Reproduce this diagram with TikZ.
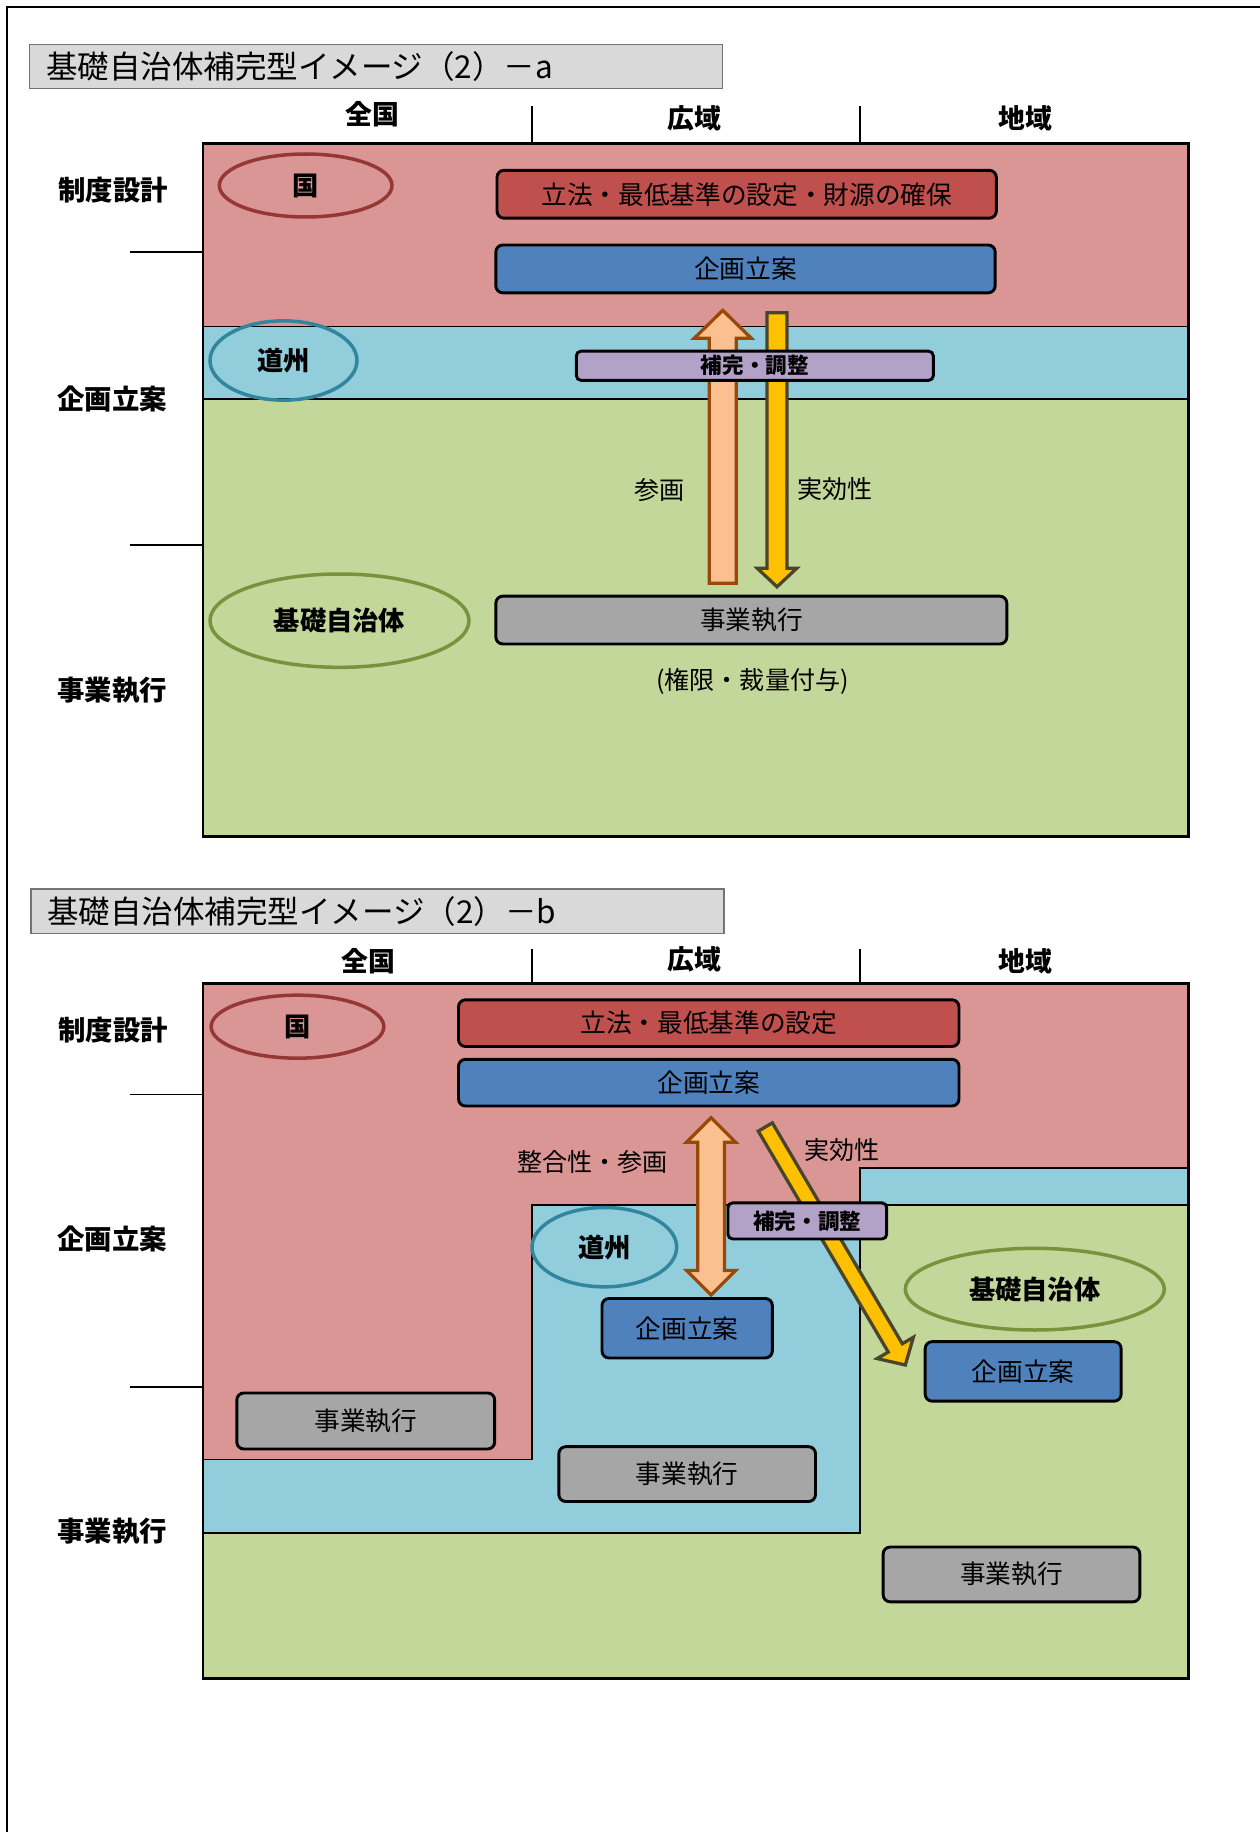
\documentclass[tikz,border=0pt]{standalone}
\usepackage{fontspec}
\setmainfont{Noto Sans CJK JP}
\usetikzlibrary{shapes.geometric}
\usetikzlibrary{calc}

\definecolor{bandred}{HTML}{DA9694}
\definecolor{bandblue}{HTML}{92CDDC}
\definecolor{bandgreen}{HTML}{C4D79B}
\definecolor{boxred}{HTML}{C0504D}
\definecolor{boxblue}{HTML}{4F81BD}
\definecolor{boxgray}{HTML}{A6A6A6}
\definecolor{boxpurple}{HTML}{B3A2C7}
\definecolor{ringred}{HTML}{953735}
\definecolor{ringteal}{HTML}{31859C}
\definecolor{ringgreen}{HTML}{77933C}
\definecolor{titlegray}{HTML}{D9D9D9}
\definecolor{sankafill}{HTML}{FAC090}
\definecolor{sankaline}{HTML}{984807}
\definecolor{jikkofill}{HTML}{FFC000}
\definecolor{jikkoline}{HTML}{4A452A}

% block arrow: style, tail, tip, shaft half width, head half width, head length
\newcommand{\blockarrow}[6]{%
  \coordinate (bh) at ($(#3)!#6!(#2)$);
  \draw[#1] ($(#2)!#4!90:(#3)$) -- ($(bh)!#4!90:(#3)$) -- ($(bh)!#5!90:(#3)$) -- (#3)
    -- ($(bh)!#5!-90:(#3)$) -- ($(bh)!#4!-90:(#3)$) -- ($(#2)!#4!-90:(#3)$) -- cycle;
}
% double block arrow
\newcommand{\dblockarrow}[6]{%
  \coordinate (dha) at ($(#2)!#6!(#3)$);
  \coordinate (dhb) at ($(#3)!#6!(#2)$);
  \draw[#1] (#2) -- ($(dha)!#5!90:(#3)$) -- ($(dha)!#4!90:(#3)$) -- ($(dhb)!#4!90:(#3)$)
    -- ($(dhb)!#5!90:(#3)$) -- (#3) -- ($(dhb)!#5!-90:(#3)$) -- ($(dhb)!#4!-90:(#3)$)
    -- ($(dha)!#4!-90:(#3)$) -- ($(dha)!#5!-90:(#3)$) -- cycle;
}

\begin{document}
\begin{tikzpicture}[x=1pt,y=-1pt,
    titlebox/.style={draw=black!55,line width=1pt,fill=titlegray,anchor=west,
        minimum height=38pt,inner xsep=14pt,text width=566pt,align=left,
        font=\fontsize{27}{30}\selectfont},
    head/.style={font=\fontsize{23}{27}\selectfont\bfseries},
    rowlabel/.style={font=\fontsize{23.5}{27}\selectfont\bfseries},
    ring/.style={ellipse,draw,line width=3pt,inner sep=0pt,
        font=\fontsize{22.5}{26}\selectfont\bfseries},
    task/.style={draw=black,line width=2.5pt,rounded corners=6pt,inner sep=0pt,
        font=\fontsize{22}{26}\selectfont},
    hokan/.style={task,fill=boxpurple,rounded corners=4pt,
        font=\fontsize{18.5}{21}\selectfont\bfseries},
    note/.style={font=\fontsize{21.5}{25}\selectfont},
    sanka/.style={fill=sankafill,draw=sankaline,line width=2.8pt},
    jikko/.style={fill=jikkofill,draw=jikkoline,line width=2.8pt},
    band/.style={draw=black,line width=1.2pt}]
    \useasboundingbox (0,0) rectangle (1080,1570.3);
    \draw[line width=1pt] (6,1570.3) -- (6,6) -- (1080,6);

    % ---------------- (2)-a ----------------
    \node[titlebox] (titleA) at (25,57) {基礎自治体補完型イメージ（2）－a};
    \node[head] (zenkokuA) at (319,98) {全国};
    \node[head] (kouikiA) at (595,101) {広域};
    \node[head] (chiikiA) at (879,101) {地域};
    \draw[line width=1.2pt] (456,91) -- (456,123) (737,91) -- (737,123);

    \fill[bandred] (174,123) rectangle (1019,280);
    \fill[bandblue] (174,280) rectangle (1019,342);
    \fill[bandgreen] (174,342) rectangle (1019,717);
    \draw[band] (174,280) -- (1019,280) (174,342) -- (1019,342);
    \draw[line width=2.5pt] (174,123) rectangle (1019,717);

    \node[rowlabel] (seidoA) at (97,163) {制度設計};
    \node[rowlabel] (kikakuA) at (96,342) {企画立案};
    \node[rowlabel] (jigyoA) at (96,592) {事業執行};
    \draw[line width=1.2pt] (111,216) -- (174,216) (111,467) -- (174,467);

    \node[ring,draw=ringred,minimum width=148pt,minimum height=54pt] (kuniA) at (262,159) {国};
    \node[ring,draw=ringteal,minimum width=126pt,minimum height=68pt] (doshuA) at (243,309) {道州};
    \node[ring,draw=ringgreen,minimum width=222pt,minimum height=80pt] (kisoA) at (291,532) {基礎自治体};

    \node[task,fill=boxred,minimum width=428pt,minimum height=41pt] (lawA) at (640,166.5) {立法・最低基準の設定・財源の確保};
    \node[task,fill=boxblue,minimum width=428pt,minimum height=41pt] (planA) at (639,230.5) {企画立案};
    \node[task,fill=boxgray,minimum width=438pt,minimum height=41pt] (execA) at (644,531.5) {事業執行};
    \node[note] (kengenA) at (645,584) {(権限・裁量付与)};

    \coordinate (sankaTailA) at (619.5,500);
    \coordinate (sankaTipA) at (619.5,266);
    \coordinate (jikkoTailA) at (666,268);
    \coordinate (jikkoTipA) at (666,503);
    \blockarrow{sanka}{sankaTailA}{sankaTipA}{11.5pt}{24.5pt}{24pt}
    \blockarrow{jikko}{jikkoTailA}{jikkoTipA}{8.5pt}{17pt}{16pt}
    \node[note] (sankaLblA) at (565,420) {参画};
    \node[note] (jikkoLblA) at (716,419) {実効性};

    \node[hokan,minimum width=306pt,minimum height=25pt] (hokanA) at (647,313.5) {補完・調整};

    % ---------------- (2)-b ----------------
    \node[titlebox] (titleB) at (26,781) {基礎自治体補完型イメージ（2）－b};
    \node[head] (zenkokuB) at (316,824) {全国};
    \node[head] (kouikiB) at (595,822) {広域};
    \node[head] (chiikiB) at (879,824) {地域};
    \draw[line width=1.2pt] (456,813) -- (456,843) (737,813) -- (737,843);

    \fill[bandred] (174,843) -- (1019,843) -- (1019,1001) -- (737,1001) -- (737,1033)
        -- (456,1033) -- (456,1251) -- (174,1251) -- cycle;
    \fill[bandblue] (456,1033) rectangle (737,1314);
    \fill[bandblue] (737,1001) rectangle (1019,1033);
    \fill[bandblue] (174,1251) rectangle (456,1314);
    \fill[bandgreen] (737,1033) -- (1019,1033) -- (1019,1439) -- (174,1439) -- (174,1314)
        -- (737,1314) -- cycle;
    \draw[band] (174,1251) -- (456,1251) -- (456,1033) -- (737,1033) -- (737,1001) -- (1019,1001);
    \draw[band] (737,1033) -- (1019,1033);
    \draw[band] (174,1314) -- (737,1314) -- (737,1033);
    \draw[line width=2.5pt] (174,843) rectangle (1019,1439);

    \node[rowlabel] (seidoB) at (97,883) {制度設計};
    \node[rowlabel] (kikakuB) at (96,1062) {企画立案};
    \node[rowlabel] (jigyoB) at (96,1313) {事業執行};
    \draw[line width=1.2pt] (111,938) -- (174,938) (111,1189) -- (174,1189);

    \node[ring,draw=ringred,minimum width=148pt,minimum height=54pt] (kuniB) at (255,880) {国};
    \node[ring,draw=ringteal,minimum width=124pt,minimum height=68pt] (doshuB) at (518,1069) {道州};
    \node[ring,draw=ringgreen,minimum width=222pt,minimum height=70pt] (kisoB) at (887,1105) {基礎自治体};

    \node[task,fill=boxred,minimum width=429pt,minimum height=40pt] (lawB) at (607.5,877) {立法・最低基準の設定};
    \node[task,fill=boxblue,minimum width=429pt,minimum height=40pt] (planB) at (607.5,928) {企画立案};
    \node[task,fill=boxblue,minimum width=146pt,minimum height=51pt] (planMidB) at (589,1138.5) {企画立案};
    \node[task,fill=boxblue,minimum width=168pt,minimum height=51pt] (planRightB) at (877,1175.5) {企画立案};
    \node[task,fill=boxgray,minimum width=221pt,minimum height=48pt] (execLeftB) at (313.5,1218) {事業執行};
    \node[task,fill=boxgray,minimum width=220pt,minimum height=47pt] (execMidB) at (589,1263.5) {事業執行};
    \node[task,fill=boxgray,minimum width=220pt,minimum height=47pt] (execRightB) at (867,1349.5) {事業執行};

    \coordinate (sankaTopB) at (609.5,958);
    \coordinate (sankaBotB) at (609.5,1110);
    \coordinate (jikkoTailB) at (656,966);
    \coordinate (jikkoTipB) at (776,1170);
    \dblockarrow{sanka}{sankaTopB}{sankaBotB}{11.5pt}{21pt}{21pt}
    \blockarrow{jikko}{jikkoTailB}{jikkoTipB}{7pt}{18pt}{17pt}
    \node[note] (sankaLblB) at (508,996) {整合性・参画};
    \node[note] (jikkoLblB) at (722,986) {実効性};

    \node[hokan,minimum width=136pt,minimum height=31pt] (hokanB) at (692,1046.5) {補完・調整};
\end{tikzpicture}
\end{document}
